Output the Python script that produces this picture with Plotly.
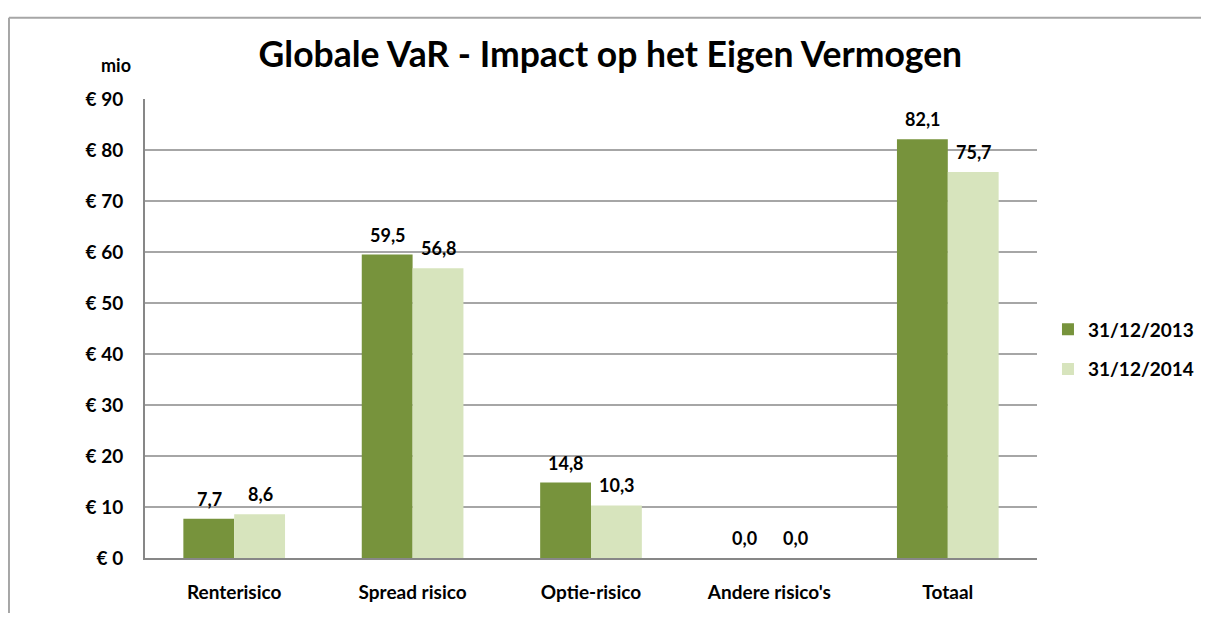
import plotly.graph_objects as go

categories = ["Renterisico", "Spread risico", "Optie-risico", "Andere risico's", "Totaal"]
series_names = ["31/12/2013", "31/12/2014"]
values_2013 = [7.7, 59.5, 14.8, -0.4, 82.1]
values_2014 = [8.6, 56.8, 10.3, -0.3, 75.7]
labels_2013 = ["7,7", "59,5", "14,8", "0,0", "82,1"]
labels_2014 = ["8,6", "56,8", "10,3", "0,0", "75,7"]
tick_vals = [0, 10, 20, 30, 40, 50, 60, 70, 80, 90]
tick_text = ["€ 0", "€ 10", "€ 20", "€ 30", "€ 40", "€ 50", "€ 60", "€ 70", "€ 80", "€ 90"]

DARK = "#77933C"
LIGHT = "#D7E4BD"
FONT = "Lato"
SZ = 19

fig = go.Figure()
fig.add_trace(go.Bar(x=categories, y=values_2013, name=series_names[0], marker_color=DARK,
                     marker_line_width=0, legendgroup="a"))
fig.add_trace(go.Bar(x=categories, y=values_2014, name=series_names[1], marker_color=LIGHT,
                     marker_line_width=0, legendgroup="b"))

lab_font = dict(family=FONT, size=SZ - 1, color="black", weight="bold")
annotations = []
for cat, v, lab in zip(categories, values_2013, labels_2013):
    annotations.append(dict(x=cat, y=max(v, 0), text=lab, showarrow=False, xshift=-25, yshift=20,
                            yanchor="middle", font=lab_font))
for cat, v, lab in zip(categories, values_2014, labels_2014):
    annotations.append(dict(x=cat, y=max(v, 0), text=lab, showarrow=False, xshift=26, yshift=20,
                            yanchor="middle", font=lab_font))
annotations.append(dict(xref="paper", yref="paper", x=-0.0135, y=1.074, text="mio", showarrow=False,
                        xanchor="right", yanchor="middle", font=lab_font))

W, H = 1194, 605
PW = W - 137 - 165
fig.update_layout(
    width=W, height=H,
    margin=dict(l=137, r=165, t=91, b=H - 91 - 459, autoexpand=False),
    paper_bgcolor="white", plot_bgcolor="white",
    barmode="group", bargap=0.43, bargroupgap=0,
    title=dict(text="Globale VaR - Impact op het Eigen Vermogen", x=0.5045, xanchor="center",
               y=1 - 47 / H, yanchor="middle",
               font=dict(family=FONT, size=35.5, color="black", weight="bold")),
    font=dict(family=FONT, color="black"),
    xaxis=dict(showgrid=False, showline=True, linecolor="#878787", linewidth=2, ticks="", automargin=False,
               tickfont=dict(family=FONT, size=SZ, color="black", weight="bold"), ticklabelstandoff=16),
    yaxis=dict(range=[0, 90], tickvals=tick_vals, ticktext=tick_text, showgrid=True, gridcolor="#A6A6A6", gridwidth=2,
               showline=True, linecolor="#878787", linewidth=2, zeroline=False, ticks="", automargin=False,
               tickfont=dict(family=FONT, size=SZ, color="black", weight="bold"), ticklabelstandoff=16),
    legend=dict(xref="container", yref="container", x=0.871, y=1 - 341.5 / H, xanchor="left", yanchor="middle",
                bgcolor="rgba(0,0,0,0)",
                font=dict(family=FONT, size=SZ, color="black", weight="bold"), itemwidth=30, tracegroupgap=12),
    showlegend=True,
    annotations=annotations,
    shapes=[
        dict(type="line", xref="paper", yref="paper", x0=-0.1525, x1=-0.1525, y0=-0.4, y1=1.177,
             line=dict(color="#A6A6A6", width=2), layer="below"),
        dict(type="line", xref="paper", yref="paper", x0=-0.1525, x1=(W - 1 - 137) / PW, y0=1.177, y1=1.177,
             line=dict(color="#A6A6A6", width=2), layer="below"),
    ],
)

fig.write_html("out.html")
